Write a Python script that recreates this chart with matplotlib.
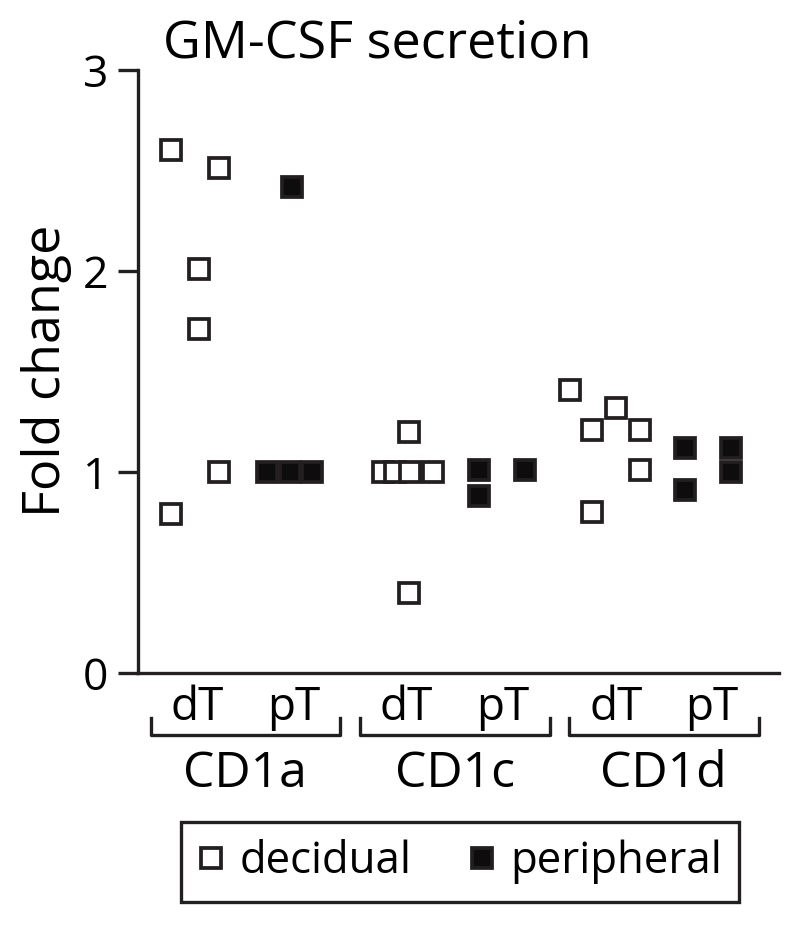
import matplotlib
matplotlib.use("Agg")
import matplotlib.pyplot as plt
from matplotlib.lines import Line2D

plt.rcParams['font.family'] = ['Open Sans', 'DejaVu Sans']

# ---------------- data ----------------
groups = ['CD1a', 'CD1c', 'CD1d']
subgroups = ['dT', 'pT']
title = 'GM-CSF secretion'
ylabel = 'Fold change'
yticks = [0, 1, 2, 3]
legend_labels = ['decidual', 'peripheral']

cd1a_dT = [2.60, 0.79, 2.01, 1.71, 2.51, 1.00]
cd1a_pT = [1.00, 1.00, 1.00, 2.42]
cd1c_dT = [1.20, 1.00, 1.00, 1.00, 1.00, 0.40]
cd1c_pT = [1.01, 0.88, 1.01]
cd1d_dT = [1.41, 1.32, 1.21, 1.21, 1.01, 0.80]
cd1d_pT = [1.12, 0.91, 1.12, 1.00]

# horizontal jitter of each point (pixels, layout only)
jit_cd1a_dT = [-26, -26, 1.3, 1.3, 21.3, 21.3]
jit_cd1a_pT = [-26.4, -3.9, 18.6, -1.4]
jit_cd1c_dT = [2, -23.6, -11.6, 3.4, 26.4, 2]
jit_cd1c_pT = [-23.6, -23.6, 22.4]
jit_cd1d_dT = [-46.3, -0.3, -24.3, 24.2, 24.2, -24.3]
jit_cd1d_pT = [-26.8, -26.8, 19.2, 19.2]

series = [
    (0, 0, cd1a_dT, jit_cd1a_dT), (0, 1, cd1a_pT, jit_cd1a_pT),
    (1, 0, cd1c_dT, jit_cd1c_dT), (1, 1, cd1c_pT, jit_cd1c_pT),
    (2, 0, cd1d_dT, jit_cd1d_dT), (2, 1, cd1d_pT, jit_cd1d_pT),
]

# ---------------- style ----------------
PX = 209.2            # pixels per group unit
SUB = 48 / PX         # dT / pT offset from group centre
INK = '#231f20'
LW = 2.4
MS = 14.0
MEW = 2.7

fig = plt.figure(figsize=(8, 9.26), dpi=100)
ax = fig.add_axes([138/800, 1-673/926, (779-138)/800, (673-70)/926])

for g, s, vals, jit in series:
    xs = [g + (SUB if s == 1 else -SUB) + j / PX for j in jit]
    face = 'white' if s == 0 else '#0d0d0d'
    ax.plot(xs, vals, ls='none', marker='s', ms=MS, mfc=face, mec=INK,
            mew=MEW, clip_on=False, zorder=3)

ax.set_xlim((138-245.4)/PX, (779-245.4)/PX)
ax.set_ylim(0, 3)
for sp in ['top', 'right']:
    ax.spines[sp].set_visible(False)
for sp in ['left', 'bottom']:
    ax.spines[sp].set_linewidth(LW)
    ax.spines[sp].set_color(INK)
ax.set_xticks([])
ax.set_yticks(yticks)
ax.set_yticklabels([str(t) for t in yticks])
ax.tick_params(axis='y', length=14.5, width=LW, color=INK, labelsize=32, pad=7)

trans = ax.get_xaxis_transform()
y_top = (673-718)/603
y_bot = (673-735)/603
half = 94.9 / PX
for i, name in enumerate(groups):
    ax.plot([i-half, i-half, i+half, i+half], [y_top, y_bot, y_bot, y_top],
            color=INK, lw=LW, transform=trans, clip_on=False)
    for k, sname in enumerate(subgroups):
        xx = i + (SUB if k == 1 else -SUB)
        ax.text(xx, (673-720)/603, sname, transform=trans, ha='center',
                va='baseline', fontsize=33)
    ax.text(i, (673-787)/603, name, transform=trans, ha='center',
            va='baseline', fontsize=36)

fig.text(163/800, 1-57/926, title, fontsize=37.5, ha='left', va='baseline')
fig.text(60/800, 1-371/926, ylabel, fontsize=37.5, rotation=90,
         rotation_mode='anchor', ha='center', va='baseline')

handles = [
    Line2D([], [], ls='none', marker='s', ms=MS, mfc='white', mec=INK, mew=MEW),
    Line2D([], [], ls='none', marker='s', ms=MS, mfc='#0d0d0d', mec=INK, mew=MEW),
]
leg = fig.legend(handles, legend_labels, loc='center',
                 bbox_to_anchor=((183+737)/2/800, 1-862/926),
                 ncol=2, fontsize=31.5, frameon=True, fancybox=False,
                 framealpha=1, edgecolor=INK, handlelength=0.6,
                 handletextpad=0.35, columnspacing=1.3, borderpad=0.4)
leg.get_frame().set_linewidth(LW)

fig.savefig('out.png', dpi=100, facecolor='white')
